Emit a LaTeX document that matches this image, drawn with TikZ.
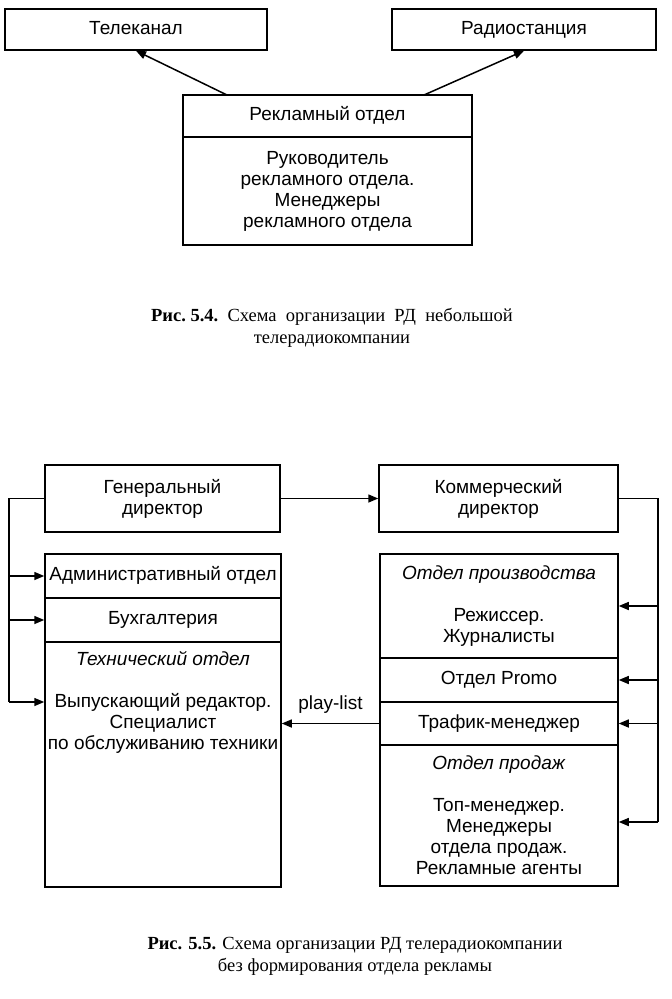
\documentclass[tikz,border=0pt]{standalone}
\usepackage{fontspec}
\setmainfont{Liberation Serif}
\setsansfont{Liberation Sans}
\usetikzlibrary{arrows.meta}

\begin{document}
\begin{tikzpicture}[x=1pt,y=-1pt,
        caja/.style={draw, line width=1.5pt, inner sep=0pt, align=center,
            font=\sffamily\fontsize{19}{21}\selectfont},
        simple/.style={text height=13.5pt, text depth=4pt},
        texto/.style={inner sep=0pt, align=center,
            font=\sffamily\fontsize{19}{21}\selectfont},
        flecha/.style={line width=1.5pt, -{Triangle[length=10pt,width=8pt]}},
        linea/.style={line width=1.5pt},
        pie/.style={align=center, font=\fontsize{18.5}{22}\selectfont}]
        \useasboundingbox (0,0) rectangle (672,999);

        % Paso 1: cajas superiores (figura 5.4)
        \node[caja, simple, minimum width=262pt, minimum height=41pt] (tele) at (136,29.5) {Телеканал};
        \node[caja, simple, minimum width=264pt, minimum height=41pt] (radio) at (524,29.5) {Радиостанция};

        % Paso 2: departamento de publicidad
        \node[caja, simple, minimum width=289pt, minimum height=42pt] (rdhead) at (327.5,116) {Рекламный отдел};
        \node[caja, minimum width=289pt, minimum height=108pt] (rdbody) at (327.5,191)
            {Руководитель\\рекламного отдела.\\Менеджеры\\рекламного отдела};

        % Paso 3: flechas hacia arriba
        \coordinate (rl) at (227,95);
        \coordinate (rr) at (424,95);
        \draw[flecha] (rl) -- (tele.south);
        \draw[flecha] (rr) -- (radio.south);

        \node[pie] (cap1) at (332,328) {\textbf{Рис.\ 5.4.}\ \ Схема\ \ организации\ \ РД\ \ небольшой\\телерадиокомпании};

        % Paso 4: directores (figura 5.5)
        \node[caja, minimum width=235pt, minimum height=67pt] (gen) at (162.5,498.5) {Генеральный\\директор};
        \node[caja, minimum width=239pt, minimum height=67pt] (kom) at (498.5,498.5) {Коммерческий\\директор};
        \draw[flecha] (gen) -- (kom);

        % Paso 5: columna izquierda
        \node[caja, simple, minimum width=236pt, minimum height=44pt] (adm) at (163,576) {Административный отдел};
        \node[caja, simple, minimum width=236pt, minimum height=44pt] (buh) at (163,620) {Бухгалтерия};
        \node[caja, minimum width=236pt, minimum height=245pt] (tech) at (163,764.5) {};
        \node[texto] (techtxt) at (163,702)
            {\textit{Технический отдел}\\[21pt]Выпускающий редактор.\\Специалист\\по обслуживанию техники};

        % Paso 6: columna derecha
        \node[caja, minimum width=238pt, minimum height=104pt] (proizv) at (499,606)
            {\textit{Отдел производства}\\[21pt]Режиссер.\\Журналисты};
        \node[caja, simple, minimum width=238pt, minimum height=44pt] (promo) at (499,680) {Отдел Promo};
        \node[caja, simple, minimum width=238pt, minimum height=43pt] (traf) at (499,723.5) {Трафик-менеджер};
        \node[caja, minimum width=238pt, minimum height=141pt] (prod) at (499,815.5)
            {\textit{Отдел продаж}\\[21pt]Топ-менеджер.\\Менеджеры\\отдела продаж.\\Рекламные агенты};

        % Paso 7: lineas de subordinacion
        \coordinate (lb0) at (9,498.5);
        \coordinate (lb3) at (9,702);
        \draw[linea] (gen.west) -- (lb0) -- (lb3);
        \draw[flecha] (lb0 |- adm.west) -- (adm.west);
        \draw[flecha] (lb0 |- buh.west) -- (buh.west);
        \draw[flecha] (lb3) -- (lb3 -| tech.west);

        \coordinate (rb0) at (658,498.5);
        \coordinate (rb4) at (658,822);
        \draw[linea] (kom.east) -- (rb0) -- (rb4);
        \draw[flecha] (rb0 |- proizv.east) -- (proizv.east);
        \draw[flecha] (rb0 |- promo.east) -- (promo.east);
        \draw[flecha] (rb0 |- traf.east) -- (traf.east);
        \draw[flecha] (rb4) -- (rb4 -| prod.east);

        % Paso 8: play-list
        \draw[flecha] (traf.west) -- (traf.west -| tech.east)
            node[texto, midway, above=9pt] (plist) {play-list};

        \node[pie] (cap2) at (355,956) {\textbf{Рис. 5.5.} Схема организации РД телерадиокомпании\\без формирования отдела рекламы};
    \end{tikzpicture}
\end{document}
